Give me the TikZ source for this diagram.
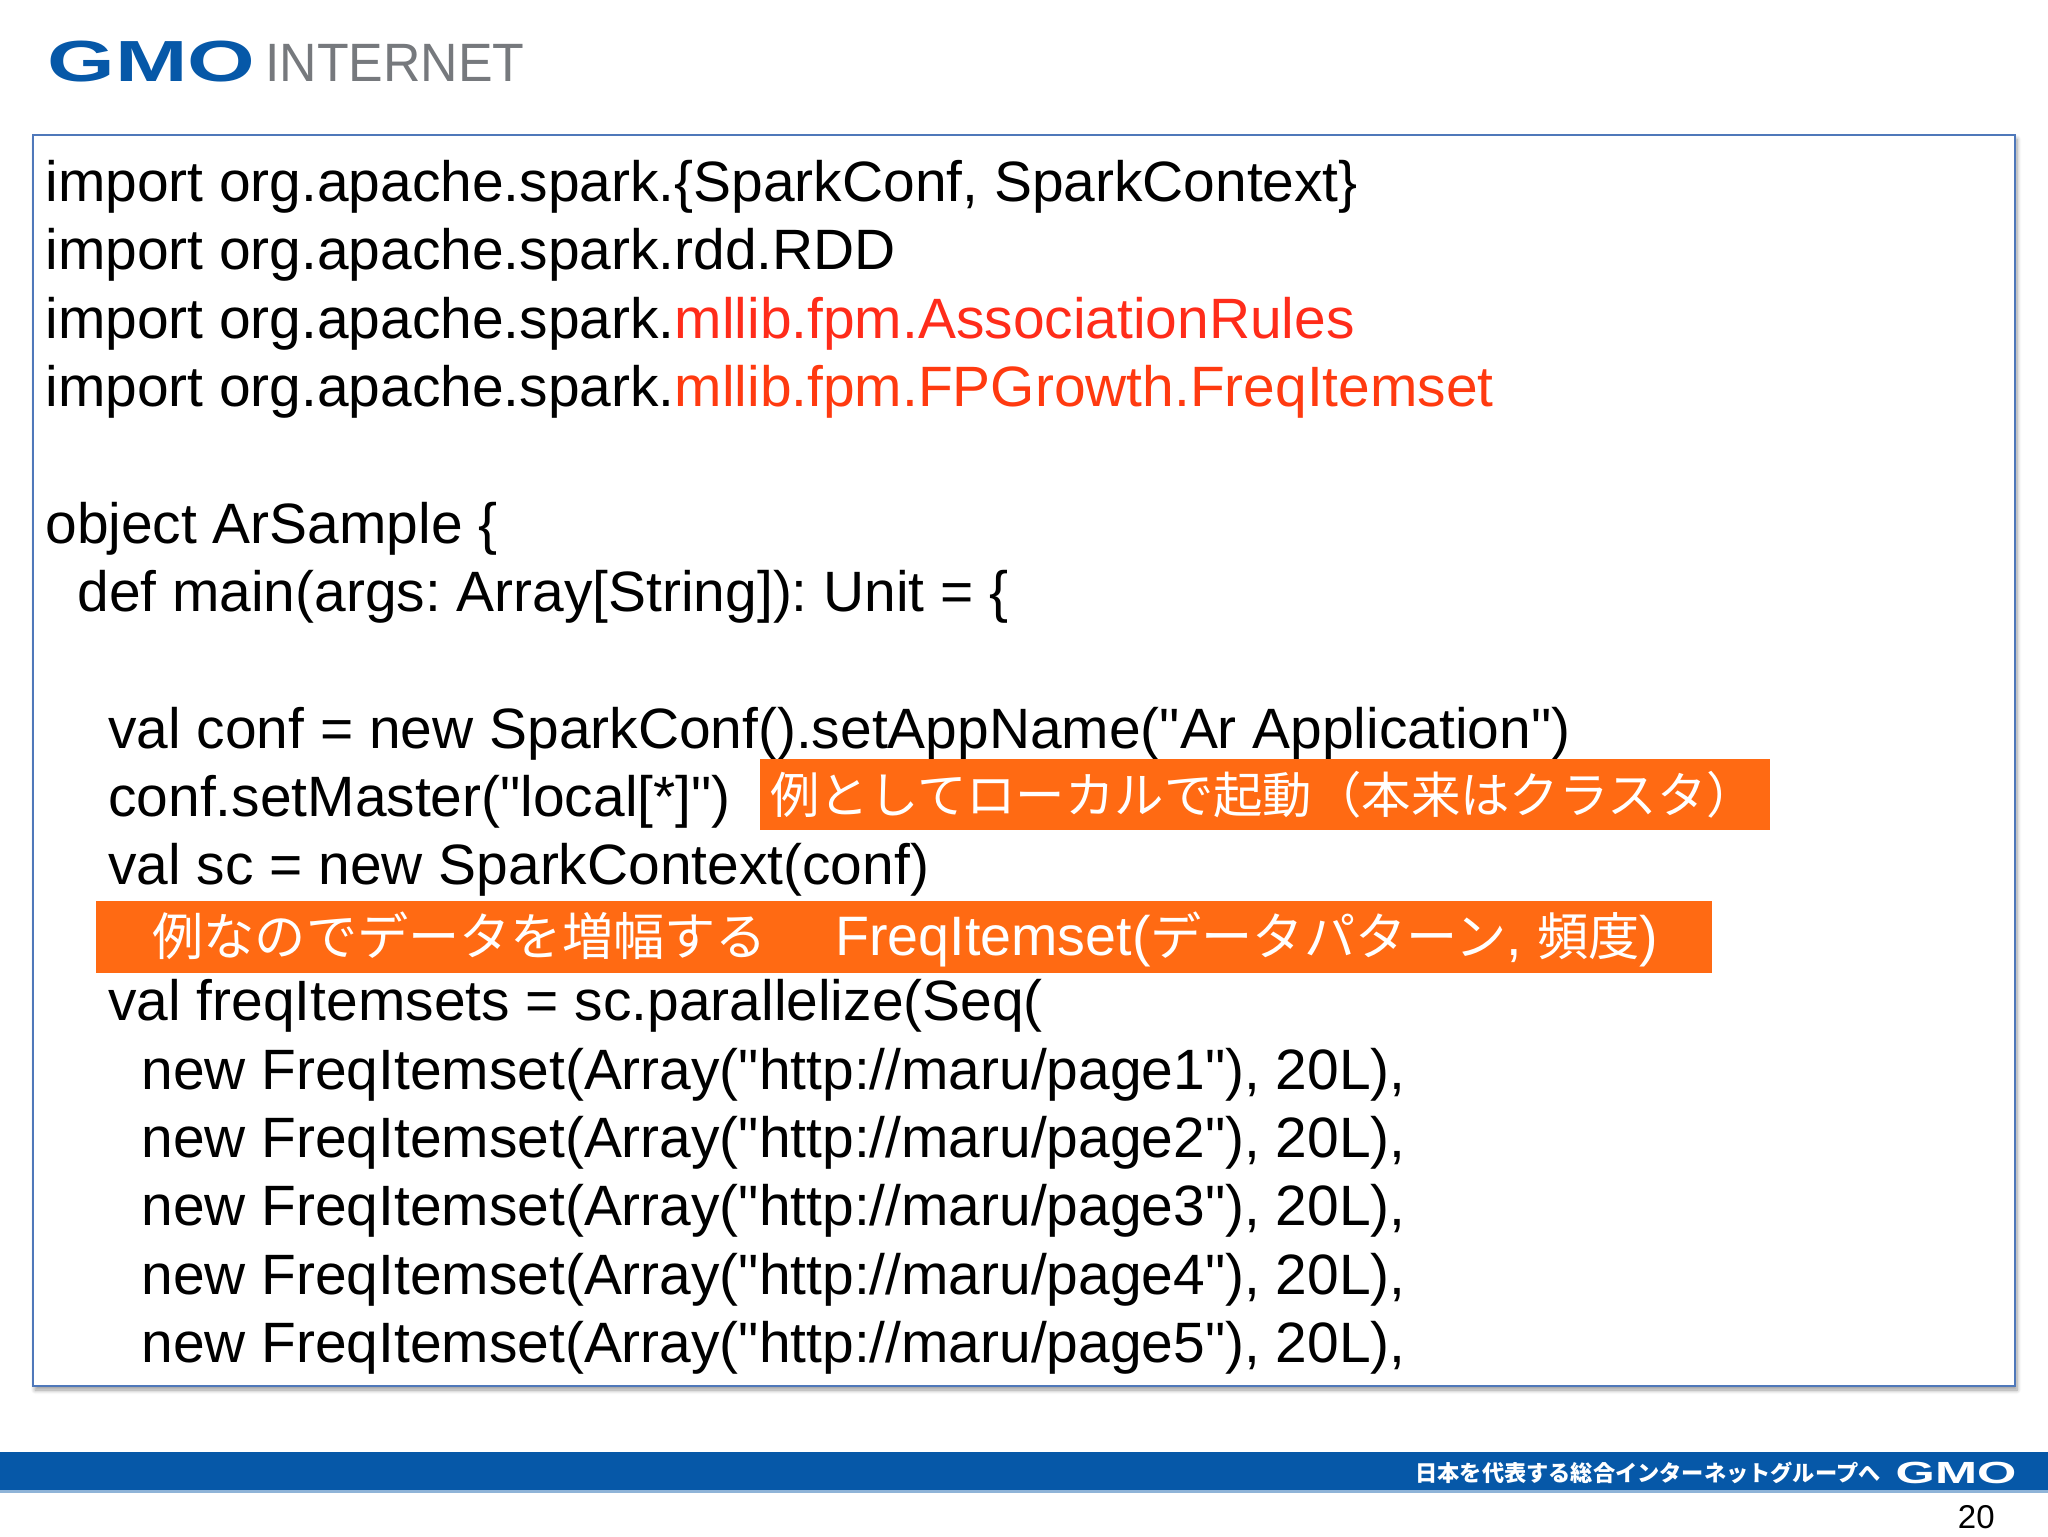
\documentclass[tikz,border=0pt]{standalone}
\usepackage{fontspec}
\setmainfont[Ligatures=TeXOff]{Liberation Sans}
\newfontfamily\cjkfont{Noto Sans CJK JP}
\usetikzlibrary{shadows.blur}
\frenchspacing
\definecolor{gmoblue}{RGB}{6,88,168}
\definecolor{boxblue}{RGB}{79,120,186}
\definecolor{tagorange}{RGB}{255,106,19}
\definecolor{codered}{RGB}{255,44,26}
\definecolor{codered2}{RGB}{255,58,16}
\definecolor{logogray}{RGB}{118,121,125}
\newcommand{\tagcjk}[1]{{\cjkfont\fontsize{25.6}{30}\selectfont #1}}
\tikzset{
  codeline/.style={anchor=base west,inner sep=0pt,font=\fontsize{28.45}{34}\selectfont},
  tagtext/.style={anchor=base west,inner sep=0pt,text=white,font=\fontsize{27.8}{30}\selectfont},
}
\begin{document}
\begin{tikzpicture}[x=0.5pt,y=0.5pt,yscale=-1,xscale=1]
      \useasboundingbox (0,0) rectangle (2048,1536);
      % logo
      \node (logogmo) at (47,82) [anchor=base west,inner sep=0pt,text=gmoblue]
            {\scalebox{1.5}[1]{\fontsize{29}{30}\selectfont\bfseries GMO}};
      \node (logonet) at (265,82) [anchor=base west,inner sep=0pt,text=logogray]
            {\scalebox{0.96}[1]{\fontsize{27}{30}\selectfont INTERNET}};
      % code panel
      \draw [boxblue,line width=1.4pt,fill=white,
             blur shadow={shadow xshift=1pt,shadow yshift=-2pt,shadow blur steps=6,shadow blur radius=2pt}]
            (33,135) rectangle (2015,1386);
      \node (imp1) at (45,201)  [codeline] {import org.apache.spark.\{SparkConf, SparkContext\}};
      \node (imp2) at (45,269)  [codeline] {import org.apache.spark.rdd.RDD};
      \node (imp3) at (45,338)  [codeline] {import org.apache.spark.\textcolor{codered}{mllib.fpm.AssociationRules}};
      \node (imp4) at (45,406)  [codeline] {import org.apache.spark.\textcolor{codered2}{mllib.fpm.FPGrowth.FreqItemset}};
      \node (obj)  at (45,543)  [codeline] {object ArSample \{};
      \node (main) at (77,611)  [codeline] {def main(args: Array[String]): Unit = \{};
      \node (conf) at (108,748) [codeline] {val conf = new SparkConf().setAppName("Ar Application")};
      \node (mast) at (108,816) [codeline] {conf.setMaster("local[*]")};
      \node (sc)   at (108,884) [codeline] {val sc = new SparkContext(conf)};
      \node (freq) at (108,1020) [codeline] {val freqItemsets = sc.parallelize(Seq(};
      \node (new1) at (141,1089) [codeline] {new FreqItemset(Array("http://maru/page1"), 20L),};
      \node (new2) at (141,1157) [codeline] {new FreqItemset(Array("http://maru/page2"), 20L),};
      \node (new3) at (141,1225) [codeline] {new FreqItemset(Array("http://maru/page3"), 20L),};
      \node (new4) at (141,1294) [codeline] {new FreqItemset(Array("http://maru/page4"), 20L),};
      \node (new5) at (141,1362) [codeline] {new FreqItemset(Array("http://maru/page5"), 20L),};
      % orange notes
      \fill [tagorange] (760,759) rectangle (1770,830);
      \node (tag1) at (770,813) [tagtext] {{\cjkfont\fontsize{24.7}{30}\selectfont 例としてローカルで起動（本来はクラスタ）}};
      \fill [tagorange] (96,901) rectangle (1712,973);
      \node (tag2) at (152,955) [tagtext] {\tagcjk{例なのでデータを増幅する}};
      \node (tag3) at (835,955) [tagtext] {FreqItemset(\tagcjk{データパターン}, \tagcjk{頻度})};
      % footer band
      \fill [gmoblue] (0,1452) rectangle (2048,1490);
      \fill [gmoblue!45] (0,1490) rectangle (2048,1493);
      \node (slogan) at (1648,1473) [inner sep=0pt,text=white,font=\cjkfont\bfseries\fontsize{11.1}{12}\selectfont]
            {日本を代表する総合インターネットグループへ};
      \node (footgmo) at (1956,1483) [anchor=base,inner sep=0pt,text=white]
            {\scalebox{1.65}[1]{\fontsize{15.3}{16}\selectfont\bfseries GMO}};
      \node (pageno) at (1995,1528) [anchor=base east,inner sep=0pt,font=\fontsize{16.5}{20}\selectfont] {20};
    \end{tikzpicture}
\end{document}
